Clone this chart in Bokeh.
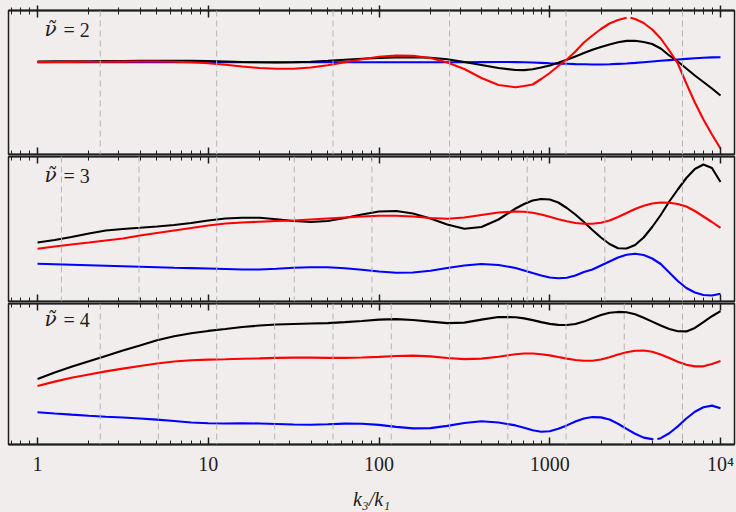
from bokeh.plotting import figure
from bokeh.layouts import column
from bokeh.models import Range1d, LogAxis, FixedTicker, Span, Label
from bokeh.embed import file_html
from bokeh.resources import INLINE

# ---------------- data ----------------
# common sampling of k3/k1
X = [1, 1.26, 1.58, 2.0, 2.51, 3.16, 3.98, 5.01, 6.31, 7.94,
     10, 12.6, 15.8, 20.0, 25.1, 31.6, 39.8, 50.1, 63.1, 79.4,
     100, 126, 158, 200, 251, 316, 398, 501, 631, 708,
     794, 891, 1000, 1122, 1259, 1413, 1585, 1778, 1995, 2239,
     2512, 2818, 3162, 3548, 3981, 4467, 5012, 5623, 6310, 7079,
     7943, 8913, 10000]

# nu = 2 (arbitrary units)
nu2_black = [94, 94.1, 94.2, 94.3, 94.4, 94.5, 94.6, 94.7, 94.7, 94.6,
             94.4, 94, 93.5, 93.2, 93, 93.2, 93.8, 94.7, 95.8, 96.8,
             97.6, 98.1, 98.2, 97.7, 96.2, 93.5, 90.5, 87.5, 85.5, 85.4,
             86.2, 88, 90, 92.8, 95.7, 99, 102.5, 105.8, 108.5, 111,
             113.2, 114.6, 114.7, 113.5, 111.5, 107, 100, 94, 87, 80,
             73.5, 67, 60]
nu2_blue = [93.2, 93.2, 93.2, 93.2, 93.2, 93.2, 93.2, 93.2, 93.2, 93.2,
            93.2, 93.2, 93.2, 93.2, 93.2, 93.2, 93.2, 93.2, 93.2, 93.2,
            93.2, 93.2, 93.2, 93.3, 93.3, 93.2, 93.4, 93.5, 93.4, 93.2,
            93.0, 92.6, 92.2, 91.9, 91.7, 91.4, 91.2, 91.0, 91.0, 91.2,
            91.6, 92.0, 92.6, 93.3, 94.0, 94.7, 95.4, 96.0, 96.6, 97.2,
            97.7, 98.1, 98.3]
X_nu2_red = [1, 1.26, 1.58, 2.0, 2.51, 3.16, 3.98, 5.01, 6.31, 7.94,
             10, 12.6, 15.8, 20.0, 25.1, 31.6, 39.8, 50.1, 63.1, 79.4,
             100, 126, 158, 200, 251, 316, 398, 501, 631, 708,
             794, 891, 1000, 1122, 1259, 1413, 1585, 1778, 1995, 2239,
             2512, 2818, 2890, 2970, 3162, 3548, 3981, 4467, 5012, 5623,
             6310, 7079, 7943, 8913, 10000]
nu2_red = [93.4, 93.5, 93.6, 93.7, 93.8, 93.9, 94, 94, 93.8, 93.2,
           92.2, 90.8, 89, 87.5, 86.8, 86.8, 88, 90.2, 93.2, 96.2,
           98.7, 100, 99.8, 97.5, 93, 86.5, 77.5, 70.5, 68.3, 69.5,
           71, 76.5, 82.5, 89.5, 96, 104, 113, 120, 126.5, 132,
           135.5, 137.7, float("nan"), 137.7, 136.5, 132.5, 126, 117, 105, 92,
           72, 53, 36, 21, 7]

# nu = 3
nu3_black = [60, 62.5, 65.5, 69, 72, 73.5, 74.7, 76, 77.5, 79.5,
             82, 84, 84.8, 84.7, 83.2, 81.5, 80.5, 81.5, 84.5, 88,
             91, 91.5, 89, 84, 78, 73.8, 75.5, 83, 94, 98.5,
             102, 103.5, 103, 100, 94.5, 88, 80.5, 72.5, 65, 58.5,
             54.2, 54, 57.5, 65, 75.5, 87.5, 101, 113, 124.5, 133.5,
             138, 134.5, 120.5]
nu3_red = [53.7, 56, 58, 60, 62, 64, 67, 69.5, 72, 74.5,
           77, 79, 80, 80.8, 81.5, 82, 83, 84, 85, 86,
           86.7, 86.8, 86, 84.5, 83.8, 85, 87.5, 90, 91, 90.8,
           89.8, 88, 85.7, 83.3, 81.2, 79.5, 78.7, 78.8, 79.8, 82,
           85.5, 89.5, 93.5, 96.8, 99, 100, 99.8, 98.5, 96, 91.5,
           86, 80.5, 74.7]
nu3_blue = [38.7, 38.2, 37.7, 37.2, 36.7, 36.2, 35.7, 35.2, 34.7, 34.4,
            34, 33.5, 33, 33, 33.7, 34.7, 35.2, 35.2, 34.2, 32.7,
            31, 29.8, 30, 31.7, 34.5, 37, 38.5, 37.5, 34.5, 32,
            29.5, 27, 25, 24.2, 24.7, 27, 30.5, 33, 37, 41,
            45, 47.8, 48.7, 47.5, 44, 38.5, 30, 21.5, 14.5, 10,
            7.5, 7, 8.7]

# nu = 4
nu4_black = [67, 73.5, 79.5, 85, 90.5, 96, 101, 106.5, 110.5, 113.7,
             116, 118, 120, 121.5, 122.5, 123, 123.5, 124, 125, 126.2,
             127.5, 128, 127.2, 125.5, 124, 124.5, 127.5, 130.2, 130, 128.8,
             127, 125, 123.2, 122.2, 122, 123, 125.5, 129, 132.2, 134.5,
             135.4, 135, 133, 129.5, 125.5, 121.5, 118, 115.7, 115.5, 119,
             125, 131, 136.3]
nu4_red = [59.7, 64.2, 68.2, 71.5, 74.7, 77.5, 80.2, 82.8, 84.7, 86,
           86.7, 87, 87.5, 88, 88.5, 88.7, 88.7, 88.5, 88.5, 88.8,
           89.5, 90.4, 90.8, 90, 88.3, 87.2, 87.7, 89.7, 92.2, 93,
           93, 92.2, 91, 89.3, 87.7, 86.3, 85.5, 85.5, 86.8, 89.2,
           92, 94.3, 95.8, 96, 94.7, 92, 88.3, 84.5, 81.5, 79.8,
           79.8, 82.2, 85.3]
X_nu4_blue = [1, 1.26, 1.58, 2.0, 2.51, 3.16, 3.98, 5.01, 6.31, 7.94,
              10, 12.6, 15.8, 20.0, 25.1, 31.6, 39.8, 50.1, 63.1, 79.4,
              100, 126, 158, 200, 251, 316, 398, 501, 631, 708,
              794, 891, 1000, 1122, 1259, 1413, 1585, 1778, 1995, 2239,
              2512, 2818, 3162, 3548, 3981, 4050, 4160, 4270, 4467, 5012,
              5623, 6310, 7079, 7943, 8913, 10000]
nu4_blue = [33, 31.7, 30.5, 29.4, 28.4, 27.5, 26.5, 25.4, 24, 22.5,
            21.7, 21.5, 21.6, 21.5, 21, 20.4, 20.2, 20.7, 21.3, 21.2,
            20, 18, 16.5, 16.7, 19, 22, 23.7, 22.5, 19.5, 17,
            14.5, 13, 13.5, 16, 19.5, 23.5, 26.5, 28, 27.7, 25.5,
            21.2, 16, 11, 7, 5.5, 5.3, float("nan"), 5.5, 6.5, 11.5,
            18.5, 26.5, 33.5, 38, 39.7, 37]

# dashed reference positions
DASH_NU2 = [2.33, 11.2, 53.8, 259, 1245, 5990]
DASH_NU3 = [1.38, 3.93, 11.2, 31.9, 90.9, 259, 738, 2102, 5990]
DASH_NU4 = [2.33, 5.10, 11.2, 24.5, 53.8, 118, 259, 568, 1245, 2731, 5990]

MAJOR = [1, 10, 100, 1000, 10000]
MINOR = [0.7, 0.8, 0.9] + [m * d for d in (1, 10, 100, 1000) for m in range(2, 10)]
TICK_LABELS = {1: "1", 10: "10", 100: "100", 1000: "1000", 10000: "10\u2074"}
NO_LABELS = {1: "", 10: "", 100: "", 1000: "", 10000: ""}
PANEL_LABELS = ["2", "3", "4"]

# ---------------- styling ----------------
BG = "#f0edec"
INK = "#1e1e1e"
FONT = "Liberation Serif"
XMIN, XMAX = 0.676, 12080


def styled_axis(ax, tick_in, tick_out, minor_in, minor_out, labels=False):
    ax.ticker = FixedTicker(ticks=MAJOR, minor_ticks=MINOR)
    ax.axis_line_color = INK
    ax.axis_line_width = 2.2
    ax.major_tick_line_color = INK
    ax.major_tick_line_width = 1.5
    ax.minor_tick_line_color = INK
    ax.minor_tick_line_width = 1
    ax.major_tick_in = tick_in
    ax.major_tick_out = tick_out
    ax.minor_tick_in = minor_in
    ax.minor_tick_out = minor_out
    if labels:
        ax.major_label_overrides = TICK_LABELS
        ax.major_label_text_font = FONT
        ax.major_label_text_font_size = "20px"
        ax.major_label_text_color = INK
        ax.major_label_standoff = 8
    else:
        ax.major_label_overrides = NO_LABELS
        ax.major_label_text_font_size = "1px"
        ax.major_label_standoff = 0
    return ax


def panel(height, yr, top_b, bot_b, top_out, bottom_labels, dashes, series, label):
    p = figure(width=736, height=height, x_axis_type="log",
               x_range=Range1d(XMIN, XMAX), y_range=Range1d(*yr),
               x_axis_location=None, y_axis_location=None,
               output_backend="svg", toolbar_location=None,
               min_border_left=8, min_border_right=2,
               min_border_top=top_b, min_border_bottom=bot_b)
    p.background_fill_color = BG
    p.border_fill_color = BG
    p.outline_line_color = INK
    p.outline_line_width = 1.5
    p.grid.visible = False

    top = styled_axis(LogAxis(), 7, top_out, 4, 3 if top_out else 0)
    p.add_layout(top, "above")
    bot = styled_axis(LogAxis(), 7, 0, 4, 0, labels=bottom_labels)
    if bottom_labels:
        bot.axis_label = "k\u2083/k\u2081"
        bot.axis_label_text_font = FONT
        bot.axis_label_text_font_size = "20px"
        bot.axis_label_text_font_style = "italic"
        bot.axis_label_text_color = INK
        bot.axis_label_standoff = 10
    p.add_layout(bot, "below")

    for d in dashes:
        p.add_layout(Span(location=d, dimension="height", line_color="#b4b4b4",
                          line_width=1, line_dash="6 4"))

    for xs, ys, col in series:
        p.line(xs, ys, line_color=col, line_width=2.1)

    fh = yr[1] - yr[0]
    p.add_layout(Label(x=36, y=fh - 30, x_units="screen", y_units="screen",
                       text="\u03bd\u0303", text_font="DejaVu Serif", text_font_size="20px",
                       text_font_style="italic", text_color=INK))
    p.add_layout(Label(x=55, y=fh - 30, x_units="screen", y_units="screen",
                       text="= " + label, text_font=FONT, text_font_size="20px",
                       text_color=INK))
    return p


p1 = panel(155, (1, 145), 10, 1, 5, False, DASH_NU2,
           [(X, nu2_blue, "#0000ff"), (X, nu2_black, "#000000"), (X_nu2_red, nu2_red, "#ff0000")],
           PANEL_LABELS[0])
p2 = panel(147, (1, 146), 1, 1, 0, False, DASH_NU3,
           [(X, nu3_blue, "#0000ff"), (X, nu3_black, "#000000"), (X, nu3_red, "#ff0000")],
           PANEL_LABELS[1])
p3 = panel(210, (0, 144), 1, 65, 0, True, DASH_NU4,
           [(X_nu4_blue, nu4_blue, "#0000ff"), (X, nu4_black, "#000000"), (X, nu4_red, "#ff0000")],
           PANEL_LABELS[2])

layout = column(p1, p2, p3, spacing=0, styles={"background-color": BG})
open("out.html", "w").write(file_html(layout, INLINE))
